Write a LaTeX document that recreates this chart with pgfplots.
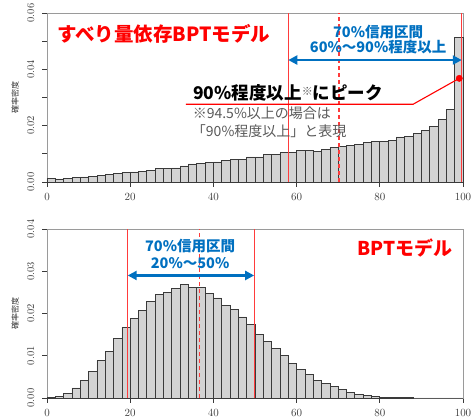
\documentclass[border=0pt]{standalone}
\usepackage{pgfplots}
\pgfplotsset{compat=1.18}
\usepackage{pgfplotstable}
\usepackage{fontspec}
\newfontfamily\cjk{Noto Sans CJK JP}
\usetikzlibrary{arrows.meta}
\definecolor{barfill}{HTML}{D3D3D3}
\definecolor{bardraw}{HTML}{3A3A3A}
\definecolor{ciblue}{HTML}{0070C0}
\definecolor{cired}{HTML}{FF3B3B}
\definecolor{notegray}{HTML}{595959}
\definecolor{framegray}{HTML}{9A9A9A}

\pgfplotstableread{
x y
0 0.0012
2 0.0011
4 0.0012
6 0.0015
8 0.0018
10 0.0020
12 0.0022
14 0.0026
16 0.0031
18 0.0034
20 0.0036
22 0.0037
24 0.0041
26 0.0047
28 0.0049
30 0.0050
32 0.0057
34 0.0064
36 0.0066
38 0.0069
40 0.0071
42 0.0077
44 0.0081
46 0.0081
48 0.0089
50 0.0089
52 0.0097
54 0.0097
56 0.0104
58 0.0104
60 0.0112
62 0.0113
64 0.0109
66 0.0117
68 0.0123
70 0.0127
72 0.0130
74 0.0133
76 0.0139
78 0.0143
80 0.0144
82 0.0148
84 0.0160
86 0.0162
88 0.0171
90 0.0184
92 0.0198
94 0.0221
96 0.0259
98 0.0512
100 0.0512
}\slipdata

\pgfplotstableread{
x y
0 0.0001
2 0.0004
4 0.0010
6 0.0024
8 0.0041
10 0.0063
12 0.0088
14 0.0110
16 0.0141
18 0.0167
20 0.0189
22 0.0208
24 0.0229
26 0.0246
28 0.0250
30 0.0260
32 0.0268
34 0.0261
36 0.0262
38 0.0247
40 0.0237
42 0.0219
44 0.0209
46 0.0192
48 0.0174
50 0.0150
52 0.0134
54 0.0118
56 0.0100
58 0.0082
60 0.0067
62 0.0056
64 0.0042
66 0.0035
68 0.0028
70 0.0020
72 0.0014
74 0.0009
76 0.0006
78 0.0004
80 0.0002
82 0.0002
84 0.0001
86 0.0001
88 0
90 0
92 0
94 0
96 0
98 0
100 0
}\bptdata

\pgfplotsset{
 histax/.style={
  scale only axis, width=416pt, height=169pt,
  xmin=0, xmax=100, ymin=0,
  axis lines*=left,
  axis line style={draw=bardraw, line width=0.8pt},
  tick align=outside,
  tick style={draw=bardraw, line width=0.8pt},
  major tick length=5pt,
  xtick={0,20,40,60,80,100},
  scaled y ticks=false,
  ticklabel style={font=\fontsize{10.5}{10.5}\selectfont, text=black!75},
  xticklabel style={yshift=-3pt},
  yticklabel style={xshift=-4pt, rotate=90, anchor=south},
  clip=false,
 },
 barstyle/.style={ybar interval, fill=barfill, draw=bardraw, line width=0.7pt},
 redline/.style={cired, line width=1.2pt},
}

\begin{document}
\begin{tikzpicture}
\path[use as bounding box] (0,0) rectangle (471pt,420pt);

% ---------- top ----------
\begin{axis}[histax, at={(47pt,238pt)}, anchor=south west,
  ymax=0.06,
  ytick={0,0.01,0.02,0.03,0.04,0.05,0.06},
  yticklabels={0.00,,0.02,,0.04,,0.06}]
\draw[framegray, line width=0.8pt] (rel axis cs:0,0) rectangle (rel axis cs:1,1);
\addplot[barstyle] table[x=x,y=y] {\slipdata};
\addplot[redline] coordinates {(58,0) (58,0.06)};
\addplot[redline, dash pattern=on 4pt off 3pt] coordinates {(70.2,0) (70.2,0.06)};
\addplot[redline] coordinates {(99.7,0) (99.7,0.06)};
\draw[ciblue, line width=2.2pt, {Triangle[length=9pt,width=9pt]}-{Triangle[length=9pt,width=9pt]}]
  (axis cs:58,0.0433) -- (axis cs:99.7,0.0433);
\addplot[red, line width=1.1pt] coordinates {(33.4,0.0276) (88,0.0276) (99.1,0.0368)};
\addplot[red, only marks, mark=*, mark size=3.2pt] coordinates {(99.1,0.0368)};
\node[anchor=west, text=red, font=\cjk\bfseries\fontsize{19.5}{19.5}\selectfont] at (axis cs:1.6,0.0526) {すべり量依存BPTモデル};
\node[text=ciblue, font=\cjk\bfseries\fontsize{14.5}{14.5}\selectfont] at (axis cs:79.6,0.0533) {70\%信用区間};
\node[text=ciblue, font=\cjk\bfseries\fontsize{14.5}{14.5}\selectfont] at (axis cs:79.6,0.0478) {60\%～90\%程度以上};
\node[anchor=west, text=black, font=\cjk\bfseries\fontsize{17.5}{17.5}\selectfont, inner sep=0pt] at (axis cs:35.1,0.0315) {90\%程度以上{\color{notegray}\fontsize{11}{11}\selectfont\raisebox{4pt}{※}}にピーク};
\node[anchor=west, text=notegray, font=\cjk\fontsize{14}{14}\selectfont, inner sep=0pt] at (axis cs:35.0,0.0245) {※94.5\%以上の場合は};
\node[anchor=west, text=notegray, font=\cjk\fontsize{14}{14}\selectfont, inner sep=0pt] at (axis cs:34.8,0.0179) {「90\%程度以上」と表現};
\node[rotate=90, font=\cjk\fontsize{8}{8}\selectfont, text=black!80] at (rel axis cs:-0.077,0.5) {確率密度};
\end{axis}

% ---------- bottom ----------
\begin{axis}[histax, at={(47pt,22pt)}, anchor=south west,
  ymax=0.04,
  ytick={0,0.01,0.02,0.03,0.04},
  yticklabels={0.00,0.01,0.02,0.03,0.04}]
\draw[framegray, line width=0.8pt] (rel axis cs:0,0) rectangle (rel axis cs:1,1);
\addplot[barstyle] table[x=x,y=y] {\bptdata};
\addplot[redline] coordinates {(19.4,0) (19.4,0.04)};
\addplot[redline, dash pattern=on 4pt off 3pt] coordinates {(36.6,0) (36.6,0.04)};
\addplot[redline] coordinates {(49.8,0) (49.8,0.04)};
\draw[ciblue, line width=2.2pt, {Triangle[length=9pt,width=9pt]}-{Triangle[length=9pt,width=9pt]}]
  (axis cs:19.4,0.029) -- (axis cs:49.8,0.029);
\node[text=ciblue, font=\cjk\bfseries\fontsize{14.5}{14.5}\selectfont] at (axis cs:34.4,0.0359) {70\%信用区間};
\node[text=ciblue, font=\cjk\bfseries\fontsize{14.5}{14.5}\selectfont] at (axis cs:34.4,0.0320) {20\%～50\%};
\node[text=red, font=\cjk\bfseries\fontsize{19}{19}\selectfont] at (axis cs:86,0.0356) {BPTモデル};
\node[rotate=90, font=\cjk\fontsize{8}{8}\selectfont, text=black!80] at (rel axis cs:-0.077,0.5) {確率密度};
\end{axis}
\end{tikzpicture}
\end{document}
